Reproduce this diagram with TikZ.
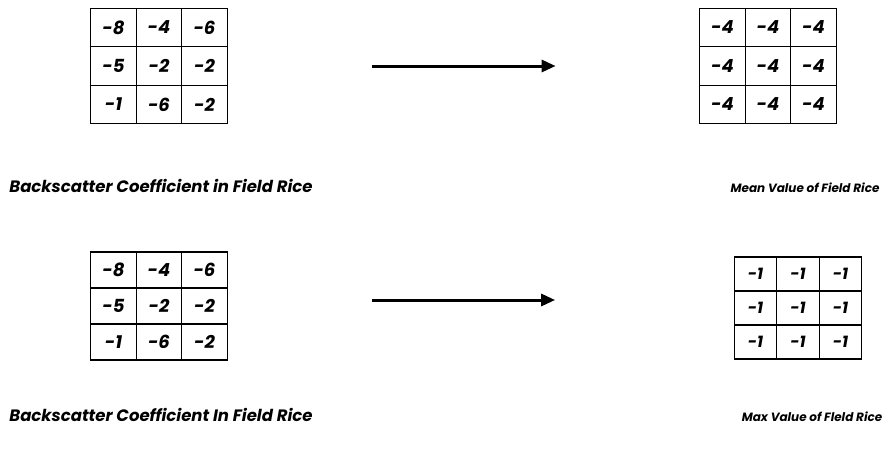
\documentclass[tikz,border=0pt]{standalone}
\usepackage{fontspec}
\setmainfont{Poppins}
\usetikzlibrary{positioning,arrows.meta,matrix}
\tikzset{
  cell/.style={draw, line width=1.2pt, anchor=center, inner sep=0pt},
  cellgrid/.style={matrix of nodes, column sep=-1.2pt, row sep=-1.2pt,
               font=\fontsize{18}{20}\selectfont\bfseries\itshape},
  bigcell/.style={nodes={cell, minimum width=45.5pt, minimum height=38.5pt}},
  smallcell/.style={nodes={cell, minimum width=42.5pt, minimum height=34pt},
                    font=\fontsize{16}{18}\selectfont\bfseries\itshape},
  captxt/.style={font=\fontsize{16.5}{18}\selectfont\bfseries\itshape, inner sep=0pt},
  smallcap/.style={captxt, font=\fontsize{12}{14}\selectfont\bfseries\itshape},
  fwd/.style={-{Triangle[length=14pt,width=12pt]}, line width=3pt},
}
\begin{document}
\begin{tikzpicture}[x=1pt, y=-1pt]
  \useasboundingbox (0,0) rectangle (884,455);

  % input grids
  \matrix[cellgrid, bigcell] (inA) at (159,66) {
    -8 & -4 & -6 \\
    -5 & -2 & -2 \\
    -1 & -6 & -2 \\
  };
  \matrix[cellgrid, bigcell, nodes={minimum height=36pt}] (inB) at (159,306) {
    -8 & -4 & -6 \\
    -5 & -2 & -2 \\
    -1 & -6 & -2 \\
  };

  % output grids
  \matrix[cellgrid, bigcell] (outA) at (768,66) {
    -4 & -4 & -4 \\
    -4 & -4 & -4 \\
    -4 & -4 & -4 \\
  };
  \matrix[cellgrid, smallcell] (outB) at (798,308) {
    -1 & -1 & -1 \\
    -1 & -1 & -1 \\
    -1 & -1 & -1 \\
  };

  % captions
  \node[captxt, below=51pt of inA, xshift=2pt] (capInA) {Backscatter Coefficient in Field Rice};
  \node[captxt, below=44pt of inB, xshift=2pt] (capInB) {Backscatter Coefficient In Field Rice};
  \node[smallcap, below=55pt of outA, xshift=37pt] (capOutA) {Mean Value of Field Rice};
  \node[smallcap, below=49pt of outB, xshift=14pt] (capOutB) {Max Value of Fleld Rice};

  \draw[fwd] ([xshift=141pt]inA.east) -- ([xshift=-140pt]outA.west);
  \draw[fwd] ([xshift=141pt,yshift=6pt]inB.east) -- ([xshift=-175pt,yshift=8pt]outB.west);

\end{tikzpicture}
\end{document}
